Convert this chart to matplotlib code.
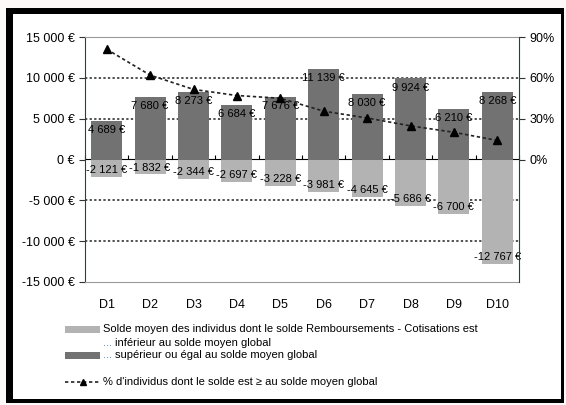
import matplotlib
matplotlib.use("Agg")
import matplotlib.pyplot as plt
import numpy as np
from matplotlib.patches import Rectangle
from matplotlib.lines import Line2D
from matplotlib.ticker import FuncFormatter

plt.rcParams['font.family'] = ['Liberation Sans', 'DejaVu Sans']

# data
deciles = ['D1', 'D2', 'D3', 'D4', 'D5', 'D6', 'D7', 'D8', 'D9', 'D10']
solde_sup = [4689, 7680, 8273, 6684, 7676, 11139, 8030, 9924, 6210, 8268]
solde_inf = [-2121, -1832, -2344, -2697, -3228, -3981, -4645, -5686, -6700, -12767]
pct_sup = [81, 62, 51.5, 47, 45, 35.5, 30.5, 24.7, 20, 14]

y_ticks = [-15000, -10000, -5000, 0, 5000, 10000, 15000]
pct_ticks = [0, 30, 60, 90]

dark = '#727272'
light = '#b3b3b3'
W, H = 566, 405

fig = plt.figure(figsize=(W / 100, H / 100), dpi=100)
fig.patch.set_facecolor('#fdf9f8')

# black frame round the chart
fig.add_artist(Rectangle((6 / W, 1 - 403 / H), 558 / W, 395 / H, transform=fig.transFigure,
                         facecolor='black', edgecolor='none', zorder=0))
fig.add_artist(Rectangle((13 / W, 1 - 399 / H), 548 / W, 385 / H, transform=fig.transFigure,
                         facecolor='white', edgecolor='none', zorder=0))

ax = fig.add_axes([85 / W, 1 - 282 / H, 434 / W, 245 / H])
ax.set_facecolor('none')
x = np.arange(len(deciles))

def euro(v, pos=None):
    s = f"{abs(int(round(v))):,}".replace(',', ' ')
    return ('-' if v < 0 else '') + s + ' €'

ax.bar(x, solde_inf, width=0.71, color=light, zorder=2)
ax.bar(x, solde_sup, width=0.71, color=dark, zorder=2)

for xi, v in zip(x, solde_sup):
    ax.annotate(euro(v), (xi, v), xytext=(0, -3), textcoords='offset points',
                ha='center', va='top', fontsize=8, zorder=5)
for xi, v in zip(x, solde_inf):
    ax.annotate(euro(v), (xi, v), xytext=(0, 5), textcoords='offset points',
                ha='center', va='center', fontsize=8, zorder=5)

ax.set_xlim(-0.5, len(deciles) - 0.5)
ax.set_ylim(-15000, 15000)
ax.set_yticks(y_ticks)
ax.yaxis.set_major_formatter(FuncFormatter(euro))
ax.set_xticks(x, deciles)
ax.tick_params(axis='x', length=0, pad=12, labelsize=9)
ax.tick_params(axis='y', length=4, direction='out', labelsize=9, color='#333333')

for v in y_ticks:
    if v not in (0, 15000, -15000):
        ax.axhline(v, color='#222222', lw=1.1, ls=(0, (1.5, 1.5)), zorder=1)

for s in ['top', 'bottom']:
    ax.spines[s].set_color('#9a9a9a')
ax.spines['left'].set_color('#333b40')
ax.spines['right'].set_visible(False)

# zero line with ticks between categories
sec = ax.secondary_xaxis(0.5)
sec.set_xticks(np.arange(len(deciles) + 1) - 0.5, labels=[''] * (len(deciles) + 1))
sec.tick_params(length=3, direction='out', color='black')
sec.spines['bottom'].set_color('black')
sec.spines['bottom'].set_linewidth(1.2)

ax2 = ax.twinx()
ax2.set_ylim(-90, 90)
ax2.set_yticks(pct_ticks, [f"{p}%" for p in pct_ticks])
ax2.tick_params(axis='y', length=4, direction='out', labelsize=9, color='#333333')
ax2.spines['right'].set_color('#333b40')
for s in ['top', 'bottom', 'left']:
    ax2.spines[s].set_visible(False)
ax2.plot(x, pct_sup, color='#222222', lw=1.2, ls=(0, (2, 1.6)), marker='^',
         markersize=6, markerfacecolor='black', markeredgecolor='black', zorder=4)

# legend drawn below the chart
fs = 8
dots = '#3d7cc4'
fig.add_artist(Rectangle((65 / W, 1 - 333 / H), 35 / W, 7 / H, transform=fig.transFigure,
                         facecolor=light, edgecolor='none'))
fig.text(103 / W, 1 - 329 / H, 'Solde moyen des individus dont le solde Remboursements - Cotisations est',
         fontsize=fs, va='center')
fig.text(103 / W, 1 - 343 / H, '...', fontsize=fs, va='center', color=dots)
fig.text(115 / W, 1 - 343 / H, 'inférieur au solde moyen global', fontsize=fs, va='center')
fig.add_artist(Rectangle((65 / W, 1 - 359 / H), 35 / W, 7 / H, transform=fig.transFigure,
                         facecolor=dark, edgecolor='none'))
fig.text(103 / W, 1 - 355 / H, '...', fontsize=fs, va='center', color=dots)
fig.text(115 / W, 1 - 355 / H, 'supérieur ou égal au solde moyen global', fontsize=fs, va='center')
fig.add_artist(Line2D([65 / W, 100 / W], [1 - 382 / H, 1 - 382 / H], transform=fig.transFigure,
                      color='#222222', lw=1.2, ls=(0, (2, 1.6))))
fig.add_artist(Line2D([82.5 / W], [1 - 382 / H], transform=fig.transFigure,
                      color='black', marker='^', markersize=5))
fig.text(103 / W, 1 - 382 / H, "% d'individus dont le solde est ≥ au solde moyen global",
         fontsize=fs, va='center')

fig.savefig('out.png', dpi=100, facecolor=fig.get_facecolor())
